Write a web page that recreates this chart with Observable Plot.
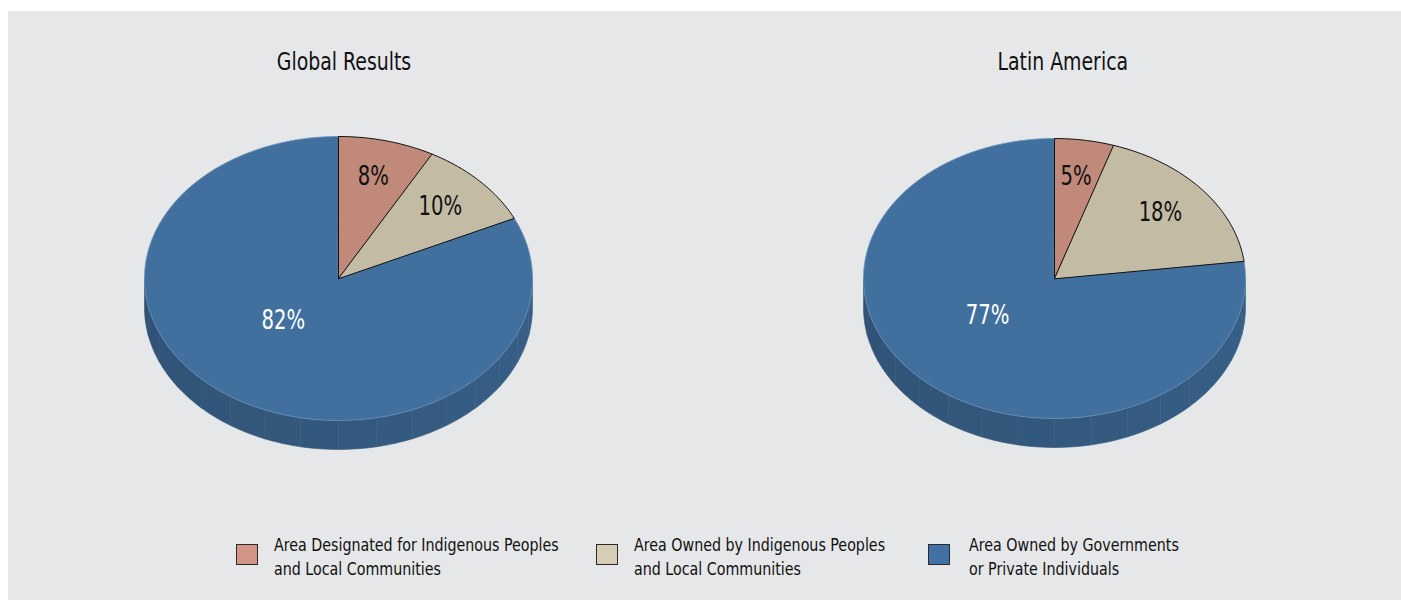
<!DOCTYPE html>
<html><head><meta charset="utf-8">
<script src="https://cdn.jsdelivr.net/npm/d3@7"></script>
<script src="https://cdn.jsdelivr.net/npm/@observablehq/plot@0.6"></script>
<style>
body{margin:0;background:#fff;font-family:"Liberation Sans Narrow","DejaVu Sans Condensed",sans-serif;font-stretch:condensed;color:#111;}
#panel{position:absolute;left:8px;top:11px;width:1393px;height:589px;background:#e6e7e8;}
.title{position:absolute;width:300px;text-align:center;font-size:25px;line-height:30px;top:47px;}
.title span{display:inline-block;transform:scaleX(0.84);transform-origin:center;}
.pie{position:absolute;top:108px;}
.leg{position:absolute;top:533px;}
.sw{position:absolute;width:20px;height:19px;border:1.5px solid #2a2a2a;top:11px;}
.lt{position:absolute;font-size:18px;line-height:24px;white-space:nowrap;top:0;transform:scaleX(0.88);transform-origin:left center;}
</style></head>
<body>
<div id="panel"></div>
<div id="root"></div>
<script>
// ---- data ----
const regions = ["Global Results", "Latin America"];
const categories = [
  "Area Designated for Indigenous Peoples and Local Communities",
  "Area Owned by Indigenous Peoples and Local Communities",
  "Area Owned by Governments or Private Individuals"
];
const legendLines = [
  ["Area Designated for Indigenous Peoples", "and Local Communities"],
  ["Area Owned by Indigenous Peoples", "and Local Communities"],
  ["Area Owned by Governments", "or Private Individuals"]
];
const globalValues = [8, 10, 82];
const latinValues = [5, 18, 77];

// ---- styles / layout ----
const sliceColors = ["#c0897a", "#c3bba4", "#41709f"];
const legendColors = ["#d19487", "#d7cdb5", "#4272a5"];
const labelColors = ["#111", "#111", "#fff"];
const FONT = '"Liberation Sans Narrow","DejaVu Sans Condensed",sans-serif';
const layout = [
  {cx: 338, rx: 194, ry: 142, depth: 29, titleX: 344},
  {cx: 1054, rx: 191, ry: 140, depth: 29, titleX: 1063}
];
const seriesList = [globalValues, latinValues];
const legendX = [{sw: 236, tx: 274}, {sw: 596, tx: 634}, {sw: 928, tx: 969}];

const root = document.getElementById("root");
const W = 420, H = 340;

seriesList.forEach((values, p) => {
  const {cx, rx, ry, depth, titleX} = layout[p];
  const total = d3.sum(values);
  const top = [], side = [], labels = [];
  let acc = 0;
  const bounds = values.map(v => { const a0 = acc / total * 2 * Math.PI; acc += v; return [a0, acc / total * 2 * Math.PI]; });
  bounds.forEach(([a0, a1], i) => {
    const n = Math.max(2, Math.ceil((a1 - a0) / (Math.PI / 180)));
    top.push({id: i, x: 0, y: 0, c: sliceColors[i]});
    for (let k = 0; k <= n; k++) {
      const t = a0 + (a1 - a0) * k / n;
      top.push({id: i, x: rx * Math.sin(t), y: -ry * Math.cos(t), c: sliceColors[i]});
    }
    const mid = (a0 + a1) / 2;
    const big = values[i] / total > 0.5;
    const kx = big ? 0.53 : 0.72, ky = big ? 0.35 : 0.74;
    labels.push({x: kx * rx * Math.sin(mid), y: -ky * ry * Math.cos(mid), text: values[i] + "%", c: labelColors[i]});
  });
  // side (front half, from right to left)
  const N = 16;
  for (let s = 0; s < N; s++) {
    const t0 = Math.PI / 2 + Math.PI * s / N, t1 = Math.PI / 2 + Math.PI * (s + 1) / N;
    const tm = (t0 + t1) / 2;
    const si = bounds.findIndex(([a0, a1]) => tm >= a0 && tm < a1);
    const col = d3.color(sliceColors[si]).darker(0.45 + 0.4 * s / (N - 1)).formatHex();
    const m = 8;
    for (let k = 0; k <= m; k++) { const t = t0 + (t1 - t0) * k / m; side.push({id: s, x: rx * Math.sin(t), y: -ry * Math.cos(t), c: col}); }
    for (let k = m; k >= 0; k--) { const t = t0 + (t1 - t0) * k / m; side.push({id: s, x: rx * Math.sin(t), y: -ry * Math.cos(t) + depth, c: col}); }
  }
  const blue = top.filter(d => d.id === 2), others = top.filter(d => d.id !== 2);
  const chart = Plot.plot({
    width: W, height: H, margin: 0,
    x: {domain: [-W / 2, W / 2], axis: null},
    y: {domain: [-H / 2, H / 2], range: [0, H], axis: null},
    color: {type: "identity"},
    style: {background: "transparent", overflow: "visible"},
    marks: [
      Plot.line(side, {x: "x", y: "y", z: "id", fill: "c", stroke: "c", strokeWidth: 0.6, curve: "linear-closed"}),
      Plot.line(blue, {x: "x", y: "y", z: "id", fill: "c", stroke: "#6b90b8", strokeWidth: 0.8, curve: "linear-closed"}),
      Plot.line(others, {x: "x", y: "y", z: "id", fill: "c", stroke: "#111", strokeWidth: 1, curve: "linear-closed"}),
      Plot.text(labels, {x: "x", y: "y", text: "text", fill: "c", fontSize: 26, fontFamily: FONT})
    ]
  });
  // condense label glyphs horizontally (keep Plot's own placement)
  d3.select(chart).selectAll("text").each(function() {
    const t = this.getAttribute("transform") || "";
    this.setAttribute("transform", `${t} scale(0.84,1)`);
  });
  const wrap = document.createElement("div");
  wrap.className = "pie";
  wrap.style.left = (cx - W / 2) + "px";
  wrap.appendChild(chart);
  root.appendChild(wrap);
  const t = document.createElement("div");
  t.className = "title";
  t.style.left = (titleX - 150) + "px";
  const sp = document.createElement("span");
  sp.textContent = regions[p];
  t.appendChild(sp);
  root.appendChild(t);
});

categories.forEach((c, i) => {
  const g = document.createElement("div");
  g.className = "leg";
  g.style.left = "0px";
  const sw = document.createElement("div");
  sw.className = "sw";
  sw.style.left = legendX[i].sw + "px";
  sw.style.background = legendColors[i];
  sw.title = c;
  const tx = document.createElement("div");
  tx.className = "lt";
  tx.style.left = legendX[i].tx + "px";
  tx.innerHTML = legendLines[i].join("<br>");
  g.appendChild(sw); g.appendChild(tx);
  root.appendChild(g);
});
</script>
</body></html>
